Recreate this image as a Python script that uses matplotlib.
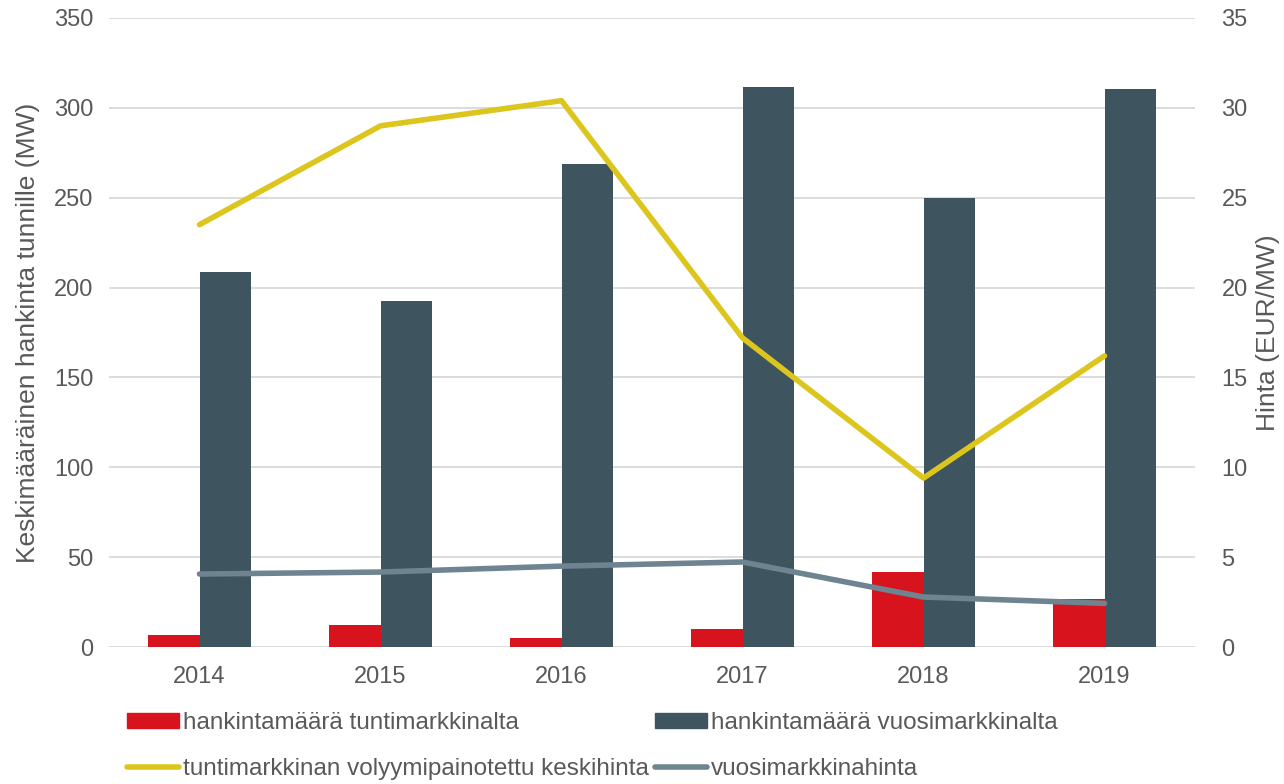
import numpy as np
import matplotlib.pyplot as plt
from matplotlib.patches import Patch
from matplotlib.lines import Line2D

years = ['2014', '2015', '2016', '2017', '2018', '2019']
hourly_mw = [6.6, 12.2, 5.2, 9.8, 41.7, 26.7]
yearly_mw = [208.7, 192.5, 268.8, 311.6, 249.9, 310.5]
hourly_price = [23.5, 29.0, 30.4, 17.2, 9.4, 16.2]
yearly_price = [4.06, 4.17, 4.5, 4.73, 2.78, 2.43]

RED = '#D7141E'
DARK = '#3E5560'
YELLOW = '#DCC61E'
GREY = '#6E8490'
TXT = '#595959'
GRID = '#D9D9D9'

plt.rcParams['font.family'] = ['Liberation Sans', 'DejaVu Sans']

fig = plt.figure(figsize=(12.84, 7.84), dpi=100)
ax = fig.add_axes([109 / 1284, 1 - 647 / 784, (1195 - 109) / 1284, (647 - 18) / 784])
ax2 = ax.twinx()

x = np.arange(len(years))
w = 0.285
ax.bar(x - w / 2, hourly_mw, w, color=RED, zorder=2)
ax.bar(x + w / 2, yearly_mw, w, color=DARK, zorder=2)

ax2.plot(x, hourly_price, color=YELLOW, lw=4, solid_capstyle='round', zorder=3)
ax2.plot(x, yearly_price, color=GREY, lw=4, solid_capstyle='round', zorder=3)

ax.set_xlim(-0.5, 5.5)
ax.set_ylim(0, 350)
ax.set_yticks(range(0, 351, 50))
ax2.set_ylim(0, 35)
ax2.set_yticks(range(0, 36, 5))
ax.set_xticks(x)
ax.set_xticklabels(years)

ax.grid(axis='y', color=GRID, lw=1.3, zorder=0)
ax.set_axisbelow(True)
for a in (ax, ax2):
    for s in a.spines.values():
        s.set_visible(False)
    a.tick_params(length=0, labelsize=17, colors=TXT)
ax.tick_params(axis='y', pad=11)
ax2.tick_params(axis='y', pad=19)
ax.tick_params(axis='x', pad=14)

# axis titles placed by hand so the right one stays inside the canvas
ax.set_ylabel('Keskimääräinen hankinta tunnille (MW)', fontsize=19, color=TXT)
ax.yaxis.set_label_coords(-69 / 1086, 0.5)
ax2.set_ylabel('Hinta (EUR/MW)', fontsize=19, color=TXT)
ax2.yaxis.set_label_coords(1 + 61 / 1086, 0.5)

handles = [
    Patch(color=RED),
    Line2D([], [], color=YELLOW, lw=4, solid_capstyle='round'),
    Patch(color=DARK),
    Line2D([], [], color=GREY, lw=4, solid_capstyle='round'),
]
labels = [
    'hankintamäärä tuntimarkkinalta',
    'tuntimarkkinan volyymipainotettu keskihinta',
    'hankintamäärä vuosimarkkinalta',
    'vuosimarkkinahinta',
]
leg = fig.legend(handles, labels, ncol=2, loc='upper left',
                 bbox_to_anchor=(127 / 1284, 1 - 712 / 784),
                 frameon=False, fontsize=17.5, handlelength=2.15, handleheight=0.55,
                 handletextpad=0.15, columnspacing=0.25, labelspacing=1.0,
                 borderaxespad=0, borderpad=0)
for t in leg.get_texts():
    t.set_color(TXT)

fig.savefig('out.png', dpi=100)
